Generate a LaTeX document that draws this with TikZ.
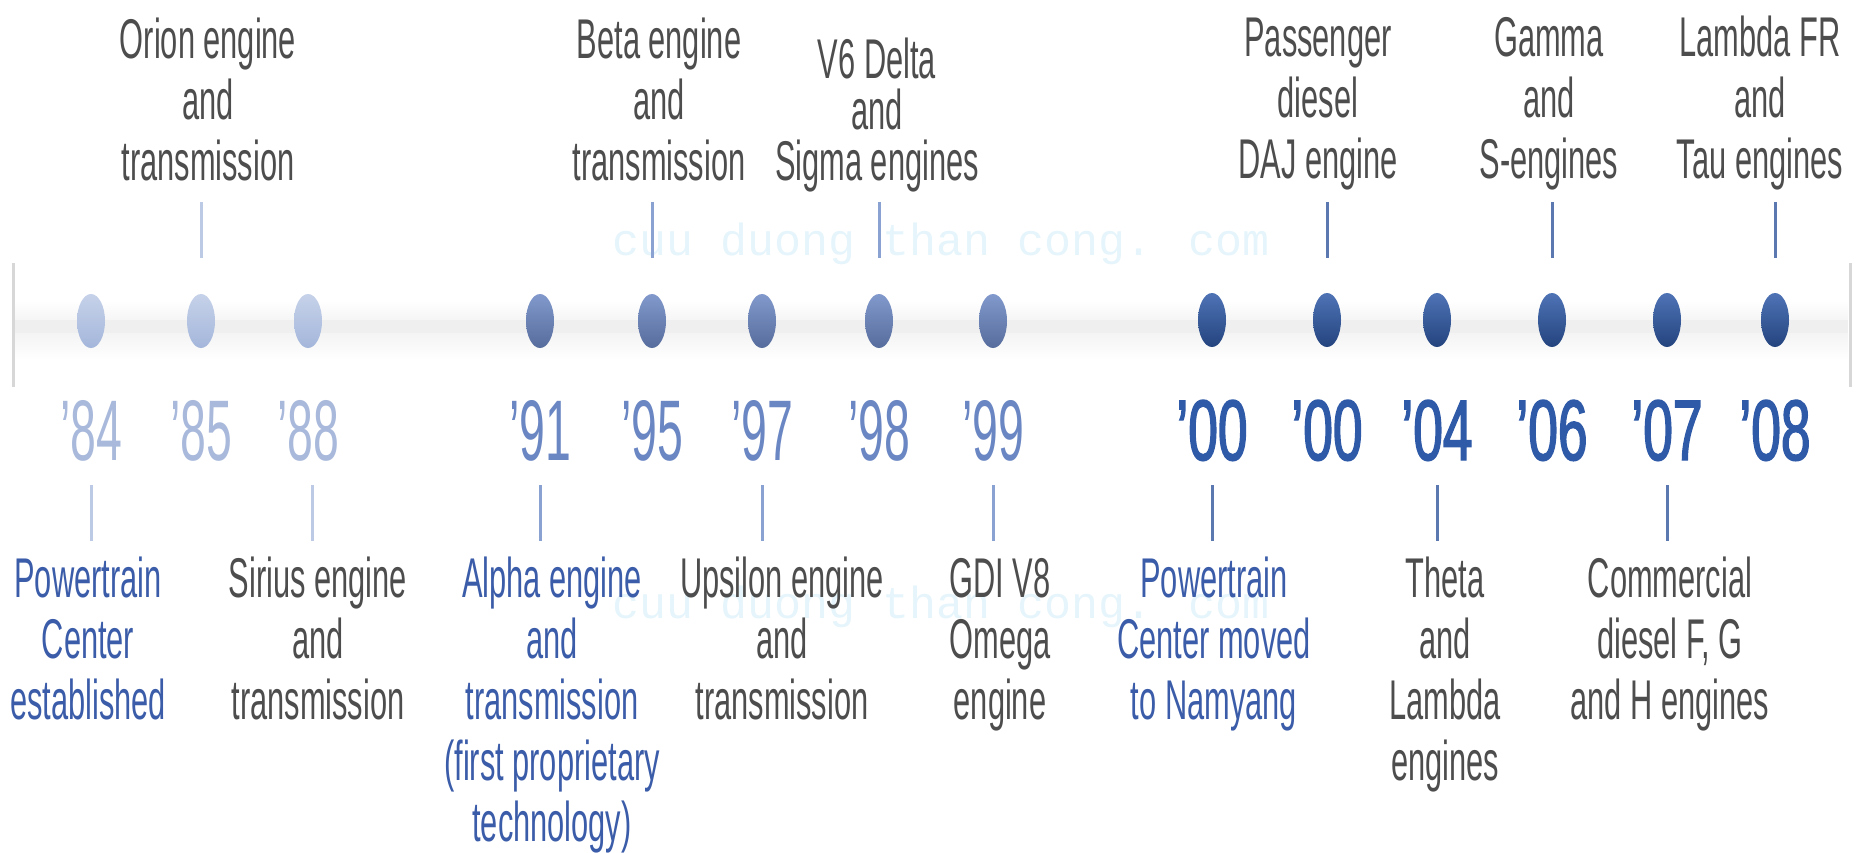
\documentclass[tikz,border=0pt]{standalone}
\usepackage{fontspec}
\usetikzlibrary{shapes.geometric}
\newfontfamily\lblfont[FakeStretch=0.55]{Liberation Sans}
\newfontfamily\yrfont[FakeStretch=0.54]{Liberation Sans}
\newfontfamily\yrbfont[FakeStretch=0.62,FakeBold=1.6]{Liberation Sans}
\newfontfamily\wmfont{Liberation Mono}
\definecolor{gtext}{HTML}{4D4D4D}
\definecolor{btext}{HTML}{3B5CA8}
\definecolor{ylight}{HTML}{A9B9DB}
\definecolor{ymid}{HTML}{6B87C3}
\definecolor{ydark}{HTML}{2F5AA8}
\definecolor{tlight}{HTML}{BCCAE5}
\definecolor{tmid}{HTML}{8AA2D2}
\definecolor{tdark}{HTML}{5B78B0}
\definecolor{band}{HTML}{EFEFEF}
\definecolor{wm}{HTML}{E6F5FB}
\begin{document}
\begin{tikzpicture}[x=1pt,y=-1pt,
  lbl/.style={font=\lblfont\fontsize{56}{61}\selectfont, align=center, inner sep=0pt, anchor=base, text=gtext},
  lblb/.style={lbl, text=btext},
  yr/.style={font=\yrfont\fontsize{86}{86}\selectfont, inner sep=0pt, anchor=base},
  yrb/.style={font=\yrbfont\fontsize{86}{86}\selectfont, inner sep=0pt, anchor=base, text=ydark},
  dotnode/.style={ellipse, minimum width=28pt, minimum height=54pt, inner sep=0pt},
  dlight/.style={dotnode, top color=tlight!85!white, bottom color=tlight!70!ymid},
  dmid/.style={dotnode, top color=ymid!85!white, bottom color=ymid!80!black},
  ddark/.style={dotnode, top color=ydark!85!white, bottom color=ydark!75!black},
  tickline/.style={line width=3pt},
  wmtext/.style={font=\wmfont\fontsize{45}{45}\selectfont, text=wm, inner sep=0pt, anchor=base west}]
\useasboundingbox (0,0) rectangle (1858,852);
% watermark
\node[wmtext] (wm1) at (612,255) {cuu duong than cong. com};
\node[wmtext] (wm2) at (612,618) {cuu duong than cong. com};
% band
\shade[top color=white, bottom color=band!60!white] (15,300) rectangle (1848,320);
\fill[band] (15,320) rectangle (1848,333);
\shade[top color=band!70!white, bottom color=white] (15,333) rectangle (1848,360);
\draw[line width=3pt, band!90!black] (13,263) -- (13,387);
\draw[line width=3pt, band!90!black] (1850,263) -- (1850,387);
% dots
\node[dlight] (d84) at (91,321) {};
\node[dlight] (d85) at (201,321) {};
\node[dlight] (d88) at (308,321) {};
\node[dmid] (d91) at (540,321) {};
\node[dmid] (d95) at (652,321) {};
\node[dmid] (d97) at (762,321) {};
\node[dmid] (d98) at (879,321) {};
\node[dmid] (d99) at (993,321) {};
\node[ddark] (d00a) at (1212,320) {};
\node[ddark] (d00b) at (1327,320) {};
\node[ddark] (d04) at (1437,320) {};
\node[ddark] (d06) at (1552,320) {};
\node[ddark] (d07) at (1667,320) {};
\node[ddark] (d08) at (1775,320) {};
% years
\node[yr, text=ylight] (y84) at (91,460) {’84};
\node[yr, text=ylight] (y85) at (201,460) {’85};
\node[yr, text=ylight] (y88) at (308,460) {’88};
\node[yr, text=ymid] (y91) at (540,460) {’91};
\node[yr, text=ymid] (y95) at (652,460) {’95};
\node[yr, text=ymid] (y97) at (762,460) {’97};
\node[yr, text=ymid] (y98) at (879,460) {’98};
\node[yr, text=ymid] (y99) at (993,460) {’99};
\node[yrb] (y00a) at (1212,460) {’00};
\node[yrb] (y00b) at (1327,460) {’00};
\node[yrb] (y04) at (1437,460) {’04};
\node[yrb] (y06) at (1552,460) {’06};
\node[yrb] (y07) at (1667,460) {’07};
\node[yrb] (y08) at (1775,460) {’08};
% tick reference coordinates
\coordinate (tA) at (0,202);
\coordinate (tB) at (0,258);
\coordinate (bA) at (0,485);
\coordinate (bB) at (0,541);
% top labels (base = last line)
\node[lbl] (l85) at (208,180) {Orion engine\\and\\transmission};
\node[lbl] (l95) at (659,180) {Beta engine\\and\\transmission};
\node[lbl, font=\lblfont\fontsize{56}{51}\selectfont] (l98) at (877,180) {V6 Delta\\and\\Sigma engines};
\node[lbl] (l00b) at (1318,178) {Passenger\\diesel\\DAJ engine};
\node[lbl] (l06) at (1549,178) {Gamma\\and\\S-engines};
\node[lbl] (l08) at (1760,178) {Lambda FR\\and\\Tau engines};
\draw[tickline, tlight] (d85 |- tA) -- (d85 |- tB);
\draw[tickline, tmid] (d95 |- tA) -- (d95 |- tB);
\draw[tickline, tmid] (d98 |- tA) -- (d98 |- tB);
\draw[tickline, tdark] (d00b |- tA) -- (d00b |- tB);
\draw[tickline, tdark] (d06 |- tA) -- (d06 |- tB);
\draw[tickline, tdark] (d08 |- tA) -- (d08 |- tB);
% bottom labels (base = last line)
\node[lblb] (l84) at (88,719) {Powertrain\\Center\\established};
\node[lbl] (l88) at (318,719) {Sirius engine\\and\\transmission};
\node[lblb] (l91) at (552,841) {Alpha engine\\and\\transmission\\(first proprietary\\technology)};
\node[lbl] (l97) at (782,719) {Upsilon engine\\and\\transmission};
\node[lbl] (l99) at (1000,719) {GDI V8\\Omega\\engine};
\node[lblb] (l00a) at (1214,719) {Powertrain\\Center moved\\to Namyang};
\node[lbl] (l04) at (1445,780) {Theta\\and\\Lambda\\engines};
\node[lbl] (l07) at (1670,719) {Commercial\\diesel F, G\\and H engines};
\draw[tickline, tlight] (d84 |- bA) -- (d84 |- bB);
\draw[tickline, tlight] ([xshift=4pt]d88 |- bA) -- ([xshift=4pt]d88 |- bB);
\draw[tickline, tmid] (d91 |- bA) -- (d91 |- bB);
\draw[tickline, tmid] (d97 |- bA) -- (d97 |- bB);
\draw[tickline, tmid] (d99 |- bA) -- (d99 |- bB);
\draw[tickline, tdark] (d00a |- bA) -- (d00a |- bB);
\draw[tickline, tdark] (d04 |- bA) -- (d04 |- bB);
\draw[tickline, tdark] (d07 |- bA) -- (d07 |- bB);
\end{tikzpicture}
\end{document}
